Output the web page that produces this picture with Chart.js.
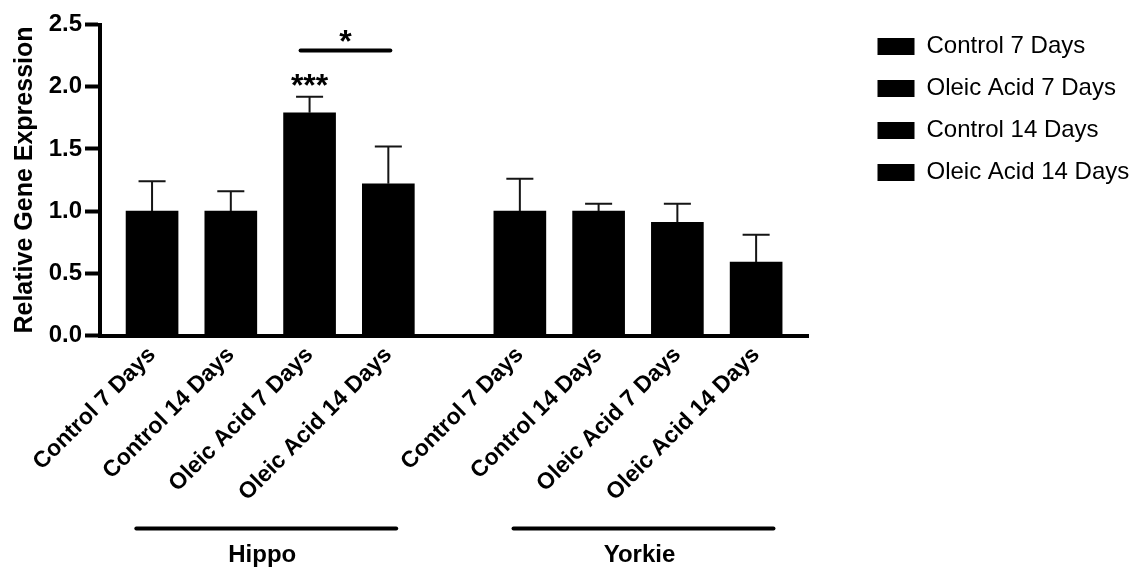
<!DOCTYPE html>
<html>
<head>
<meta charset="utf-8">
<script src="https://cdn.jsdelivr.net/npm/chart.js@4.4.1/dist/chart.umd.min.js"></script>
<style>
  html, body { margin: 0; padding: 0; background: #fff; }
  #wrap { width: 1143px; height: 567px; position: relative; }
</style>
</head>
<body>
<div id="wrap"><canvas id="chart"></canvas></div>
<script>
// ---- data ----
const genes = ['Hippo', 'Yorkie'];
// order of the bars along the axis inside each gene block
const conditions = ['Control 7 Days', 'Control 14 Days', 'Oleic Acid 7 Days', 'Oleic Acid 14 Days'];
// order of the legend entries
const legendOrder = ['Control 7 Days', 'Oleic Acid 7 Days', 'Control 14 Days', 'Oleic Acid 14 Days'];
const hippoMean  = [1.00, 1.00, 1.79, 1.22];
const hippoSem   = [0.24, 0.16, 0.13, 0.30];
const yorkieMean = [1.00, 1.00, 0.91, 0.59];
const yorkieSem  = [0.26, 0.06, 0.15, 0.22];
const yTickValues = [0, 0.5, 1.0, 1.5, 2.0, 2.5];
const yTitle = 'Relative Gene Expression';

// ---- layout ----
const FONT = '"Liberation Sans", Arial, Helvetica, sans-serif';
const GROUP_START = [1, 5.67];          // axis slot of each gene's first bar
const GROUP_SPAN = [[0.80, 4.10], [5.59, 8.89]];
const means = [hippoMean, yorkieMean];
const sems = [hippoSem, yorkieSem];

const tickPositions = [];
const tickLabels = [];
genes.forEach((g, gi) => conditions.forEach((c, ci) => {
  tickPositions.push(GROUP_START[gi] + ci);
  tickLabels.push(c);
}));

const datasets = legendOrder.map(name => {
  const ci = conditions.indexOf(name);
  return {
    label: name,
    data: genes.map((g, gi) => ({ x: GROUP_START[gi] + ci, y: means[gi][ci] })),
    sem: genes.map((g, gi) => sems[gi][ci]),
    backgroundColor: '#000',
    borderColor: '#000',
    borderWidth: 0,
    barThickness: 52,
    grouped: false
  };
});

// upper SEM whiskers
const errorBars = {
  id: 'errorBars',
  afterDatasetsDraw(chart) {
    const { ctx, scales: { y } } = chart;
    ctx.save();
    ctx.strokeStyle = '#151515';
    ctx.lineWidth = 2;
    chart.data.datasets.forEach((ds, i) => {
      chart.getDatasetMeta(i).data.forEach((bar, j) => {
        const top = y.getPixelForValue(ds.data[j].y + ds.sem[j]);
        const half = bar.width * 0.26;
        ctx.beginPath();
        ctx.moveTo(bar.x, bar.y);
        ctx.lineTo(bar.x, top);
        ctx.moveTo(bar.x - half, top);
        ctx.lineTo(bar.x + half, top);
        ctx.stroke();
      });
    });
    ctx.restore();
  }
};

// significance stars and comparison bracket
const significance = {
  id: 'significance',
  afterDatasetsDraw(chart, args, opts) {
    const { ctx, scales: { x, y } } = chart;
    ctx.save();
    ctx.fillStyle = '#000';
    ctx.strokeStyle = '#000';
    ctx.font = 'bold 32px ' + FONT;
    ctx.textAlign = 'center';
    ctx.textBaseline = 'alphabetic';
    opts.marks.forEach(m => {
      const x0 = x.getPixelForValue(GROUP_START[m.gene] + conditions.indexOf(m.from));
      if (m.to) {
        const x1 = x.getPixelForValue(GROUP_START[m.gene] + conditions.indexOf(m.to));
        const ly = y.getPixelForValue(m.lineAt);
        ctx.lineWidth = 4;
        ctx.lineCap = 'round';
        ctx.beginPath();
        ctx.moveTo(x0 - 9, ly);
        ctx.lineTo(x1 + 2, ly);
        ctx.stroke();
        ctx.fillText(m.text, (x0 - 9 + x1 + 2) / 2, y.getPixelForValue(m.textAt) + 16);
      } else {
        ctx.fillText(m.text, x0, y.getPixelForValue(m.textAt) + 16);
      }
    });
    ctx.restore();
  }
};

// gene brackets under the category labels
const geneGroups = {
  id: 'geneGroups',
  afterDraw(chart) {
    const { ctx, chartArea, scales: { x } } = chart;
    ctx.save();
    ctx.strokeStyle = '#000';
    ctx.fillStyle = '#000';
    ctx.lineWidth = 4;
    ctx.lineCap = 'round';
    ctx.font = 'bold 24px ' + FONT;
    ctx.textAlign = 'center';
    ctx.textBaseline = 'alphabetic';
    genes.forEach((g, gi) => {
      const a = x.getPixelForValue(GROUP_SPAN[gi][0]);
      const b = x.getPixelForValue(GROUP_SPAN[gi][1]);
      const ly = chartArea.bottom + 193;
      ctx.beginPath();
      ctx.moveTo(a, ly);
      ctx.lineTo(b, ly);
      ctx.stroke();
      ctx.fillText(g, (a + b) / 2 - 4, chartArea.bottom + 226);
    });
    ctx.restore();
  }
};

// legend sits a little further from the plot and higher up
const legendPlacement = {
  id: 'legendPlacement',
  afterLayout(chart) {
    const lg = chart.legend;
    if (!lg) return;
    lg.left += 51; lg.right += 51;
    lg.top -= 8; lg.bottom -= 8;
  }
};

new Chart(document.getElementById('chart'), {
  type: 'bar',
  data: { datasets },
  plugins: [errorBars, significance, geneGroups, legendPlacement],
  options: {
    responsive: true,
    maintainAspectRatio: false,
    animation: false,
    layout: { padding: { top: 24.5, right: 65, bottom: 0, left: 0 } },
    plugins: {
      tooltip: { enabled: false },
      legend: {
        position: 'right',
        align: 'start',
        labels: {
          boxWidth: 37,
          boxHeight: 17,
          padding: 18,
          color: '#000',
          font: { family: FONT, size: 24 }
        }
      },
      significance: {
        marks: [
          { gene: 0, from: 'Oleic Acid 7 Days', text: '***', textAt: 2.05 },
          { gene: 0, from: 'Oleic Acid 7 Days', to: 'Oleic Acid 14 Days', text: '*', lineAt: 2.29, textAt: 2.41 }
        ]
      }
    },
    scales: {
      x: {
        type: 'linear',
        offset: false,
        min: 0.339,
        max: 9.335,
        grid: { display: false, drawTicks: false },
        border: { display: true, color: '#000', width: 4 },
        afterBuildTicks(scale) {
          scale.ticks = tickPositions.map(v => ({ value: v }));
        },
        afterFit(scale) { scale.height = 231.5; },
        ticks: {
          autoSkip: false,
          minRotation: 45,
          maxRotation: 45,
          padding: 6,
          color: '#000',
          font: { family: FONT, size: 23, weight: 'bold' },
          callback: (v, i) => tickLabels[i]
        }
      },
      y: {
        min: 0,
        max: 2.5,
        afterBuildTicks(scale) {
          scale.ticks = yTickValues.map(v => ({ value: v }));
        },
        afterFit(scale) { scale.width = 100; },
        grid: {
          display: true,
          drawOnChartArea: false,
          drawTicks: true,
          tickLength: 15,
          tickWidth: 4,
          tickColor: '#000'
        },
        border: { display: true, color: '#000', width: 4 },
        ticks: {
          padding: 3,
          color: '#000',
          font: { family: FONT, size: 24, weight: 'bold' },
          callback: v => Number(v).toFixed(1)
        },
        title: {
          display: true,
          text: yTitle,
          color: '#000',
          padding: { top: 10, bottom: 0 },
          font: { family: FONT, size: 25, weight: 'bold' }
        }
      }
    }
  }
});
</script>
</body>
</html>
